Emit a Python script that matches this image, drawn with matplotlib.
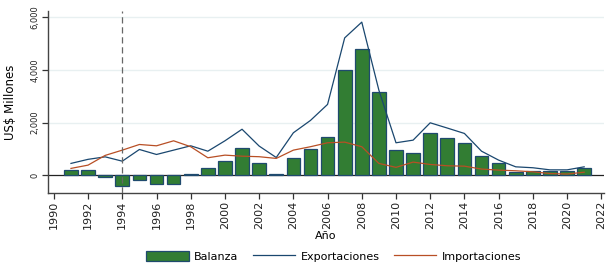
import numpy as np
import matplotlib
matplotlib.use("Agg")
import matplotlib.pyplot as plt

# data (US$ millones)
years = list(range(1991, 2022))
balanza = [190, 200, -90, -420, -190, -340, -340, 60, 265, 545, 1015, 445, 60, 660, 990,
           1455, 3980, 4780, 3155, 940, 860, 1585, 1430, 1230, 710, 455, 125, 165, 150, 150, 255]
exportaciones = [445, 600, 695, 530, 975, 785, 950, 1115, 910, 1305, 1745, 1105, 670, 1610, 2080,
                 2690, 5220, 5820, 3230, 1230, 1330, 1990, 1790, 1585, 910, 570, 315, 280, 200, 200, 315]
importaciones = [255, 380, 750, 950, 1165, 1115, 1305, 1080, 660, 760, 720, 700, 635, 950, 1080,
                 1230, 1255, 1080, 445, 295, 495, 405, 355, 340, 230, 190, 165, 125, 60, 40, 110]
xticks = list(range(1990, 2023, 2))
yticks = [0, 2000, 4000, 6000]

fig = plt.figure(figsize=(6.06, 2.64), dpi=100)
ax = fig.add_axes([0.079, 0.27, 0.918, 0.688])

for y in yticks[1:]:
    ax.axhline(y, color="#e8f0f1", lw=1, zorder=0)

b = ax.bar(years, balanza, width=0.8, color="#327d33", edgecolor="#1f4a6e", lw=0.9,
           label="Balanza", zorder=2)
l1, = ax.plot(years, exportaciones, color="#1a476f", lw=0.9, label="Exportaciones", zorder=3)
l2, = ax.plot(years, importaciones, color="#b84f25", lw=0.9, label="Importaciones", zorder=3)

ax.axhline(0, color="#222222", lw=0.9, zorder=1)
ax.axvline(1994, color="#666666", lw=0.9, ls=(0, (5, 3)), zorder=4)

ax.set_xlim(1989.65, 2022.17)
ax.set_ylim(-670, 6240)
ax.set_xticks(xticks)
ax.set_xticklabels([str(x) for x in xticks], rotation=90, fontsize=8)
ax.set_yticks(yticks)
ax.set_yticklabels(["{:,}".format(v) for v in yticks], rotation=90, fontsize=6,
                   va="center")
ax.tick_params(axis="both", colors="#333333", labelcolor="#222222", length=4, width=0.9)
ax.tick_params(axis="x", pad=2)
ax.tick_params(axis="y", pad=2)

for s in ["top", "right"]:
    ax.spines[s].set_visible(False)
for s in ["left", "bottom"]:
    ax.spines[s].set_color("#444444")
    ax.spines[s].set_linewidth(1.0)

ax.set_xlabel("Año", fontsize=8, labelpad=1)
ax.set_ylabel("US$ Millones", fontsize=8.5, labelpad=10)

fig.legend([b, l1, l2], ["Balanza", "Exportaciones", "Importaciones"],
           loc="lower center", bbox_to_anchor=(0.551, -0.03), ncol=3, frameon=False,
           fontsize=8, handlelength=3.8, handleheight=1.1, columnspacing=1.3,
           handletextpad=0.5)

fig.savefig("out.png", dpi=100)
